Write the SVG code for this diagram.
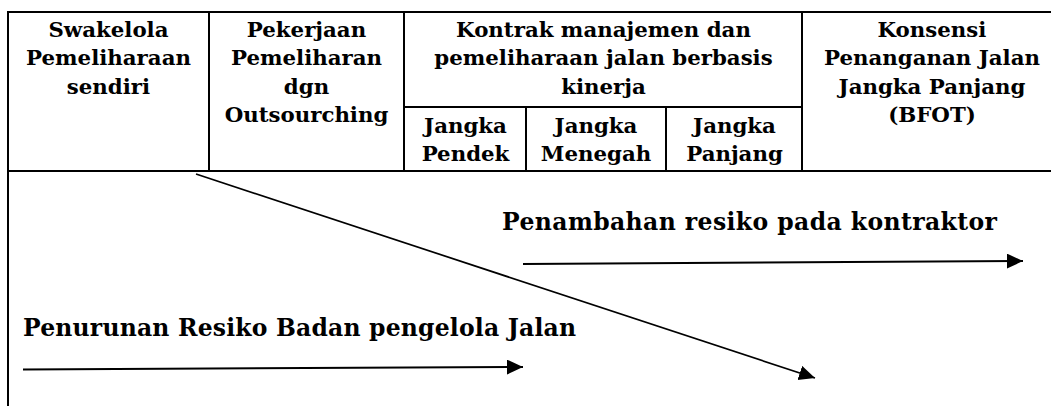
<svg xmlns="http://www.w3.org/2000/svg" width="1051" height="406" viewBox="0 0 1051 406">
<style>
.grid{stroke:#000;stroke-width:2;fill:none}
.h{font-family:"DejaVu Serif","Liberation Serif",serif;font-weight:bold;font-size:21.3px;fill:#000;text-anchor:middle}
.b{font-family:"DejaVu Serif","Liberation Serif",serif;font-weight:bold;font-size:23.5px;fill:#000}
.arr{stroke:#000;stroke-width:2;fill:none}
.diag{stroke:#000;stroke-width:1.7;fill:none}
</style>
<defs>
<marker id="ah" markerUnits="userSpaceOnUse" markerWidth="17" markerHeight="16" refX="16" refY="7.5" orient="auto">
<path d="M0,0 L16,7.5 L0,15 Z" fill="#000"/>
</marker>
</defs>
<rect width="1051" height="406" fill="#fff"/>
<g id="table">
<line class="grid" x1="7" y1="12" x2="1051" y2="12"/>
<line class="grid" x1="8" y1="11" x2="8" y2="406"/>
<line class="grid" x1="7" y1="171" x2="1051" y2="171"/>
<line class="grid" x1="209" y1="12" x2="209" y2="171"/>
<line class="grid" x1="404" y1="12" x2="404" y2="171"/>
<line class="grid" x1="802" y1="12" x2="802" y2="171"/>
<line class="grid" x1="404" y1="107" x2="802" y2="107"/>
<line class="grid" x1="526" y1="107" x2="526" y2="171"/>
<line class="grid" x1="666" y1="107" x2="666" y2="171"/>
</g>
<g id="col-swakelola">
<text class="h" x="108.5" y="37">Swakelola</text>
<text class="h" x="108.5" y="65.3">Pemeliharaan</text>
<text class="h" x="108.5" y="93.6">sendiri</text>
</g>
<g id="col-pekerjaan">
<text class="h" x="306.5" y="37">Pekerjaan</text>
<text class="h" x="306.5" y="65.3">Pemeliharan</text>
<text class="h" x="306.5" y="93.6">dgn</text>
<text class="h" x="306.5" y="122">Outsourching</text>
</g>
<g id="col-kontrak">
<text class="h" x="603.5" y="37">Kontrak manajemen dan</text>
<text class="h" x="603.5" y="65.3">pemeliharaan jalan berbasis</text>
<text class="h" x="603.5" y="93.6">kinerja</text>
</g>
<g id="sub-pendek">
<text class="h" x="465.5" y="132.5">Jangka</text>
<text class="h" x="465.5" y="161">Pendek</text>
</g>
<g id="sub-menegah">
<text class="h" x="596" y="132.5">Jangka</text>
<text class="h" x="596" y="161">Menegah</text>
</g>
<g id="sub-panjang">
<text class="h" x="734.5" y="132.5">Jangka</text>
<text class="h" x="734.5" y="161">Panjang</text>
</g>
<g id="col-konsensi">
<text class="h" x="932" y="37">Konsensi</text>
<text class="h" x="932" y="65.3">Penanganan Jalan</text>
<text class="h" x="932" y="93.6">Jangka Panjang</text>
<text class="h" x="932" y="122">(BFOT)</text>
</g>
<g id="label-penambahan">
<text class="b" x="502" y="230" textLength="495">Penambahan resiko pada kontraktor</text>
</g>
<g id="label-penurunan">
<text class="b" x="23" y="336" textLength="553">Penurunan Resiko Badan pengelola Jalan</text>
</g>
<g id="connectors">
<line class="diag" x1="196" y1="174" x2="815" y2="378" marker-end="url(#ah)"/>
<line class="arr" x1="523" y1="264" x2="1023" y2="261" marker-end="url(#ah)"/>
<line class="arr" x1="23" y1="369.5" x2="523" y2="367" marker-end="url(#ah)"/>
</g>
</svg>
